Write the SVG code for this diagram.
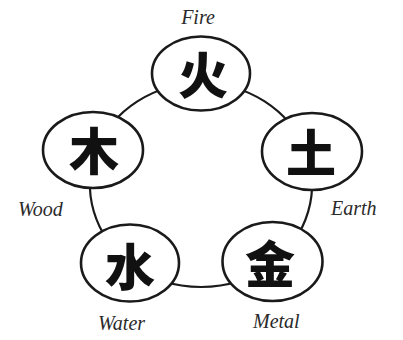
<svg xmlns="http://www.w3.org/2000/svg" width="403" height="340" viewBox="0 0 403 340">
<style>
.conn{fill:none;stroke:#1a1a1a;stroke-width:2.2}
.node{fill:#fff;stroke:#1a1a1a;stroke-width:2.6}
.glyph{font-family:"Noto Sans CJK SC","Noto Sans CJK JP",sans-serif;font-weight:900;font-size:50px;fill:#111;text-anchor:middle;dominant-baseline:central}
.lbl{font-family:"Liberation Serif",serif;font-style:italic;font-size:20px;fill:#2a2a2a}
</style>
<rect width="403" height="340" fill="#fff"/>
<g id="connectors">
<path class="conn" d="M201,83 A111,102 0 0,1 305.3,150.1"/>
<path class="conn" d="M305.3,150.1 A111,102 0 0,1 272,263.4"/>
<path class="conn" d="M272,263.4 A111,102 0 0,1 130,263.4"/>
<path class="conn" d="M130,263.4 A111,102 0 0,1 96.7,150"/>
<path class="conn" d="M96.7,150 A111,102 0 0,1 201,83"/>
</g>
<g id="fire">
<ellipse class="node" cx="201" cy="73.5" rx="49" ry="37"/>
<text class="glyph" x="203" y="72">火</text>
<text class="lbl" x="198" y="24" text-anchor="middle">Fire</text>
</g>
<g id="earth">
<ellipse class="node" cx="312" cy="151.5" rx="50" ry="38.5"/>
<text class="glyph" x="311" y="150">土</text>
<text class="lbl" x="331" y="215">Earth</text>
</g>
<g id="metal">
<ellipse class="node" cx="272.5" cy="261.5" rx="50" ry="39.5"/>
<text class="glyph" x="270" y="261">金</text>
<text class="lbl" x="253" y="328">Metal</text>
</g>
<g id="water">
<ellipse class="node" cx="130" cy="263" rx="49" ry="38.5"/>
<text class="glyph" x="130" y="264">水</text>
<text class="lbl" x="98" y="330">Water</text>
</g>
<g id="wood">
<ellipse class="node" cx="93" cy="150" rx="50" ry="38"/>
<text class="glyph" x="94" y="148">木</text>
<text class="lbl" x="18" y="216">Wood</text>
</g>
</svg>
